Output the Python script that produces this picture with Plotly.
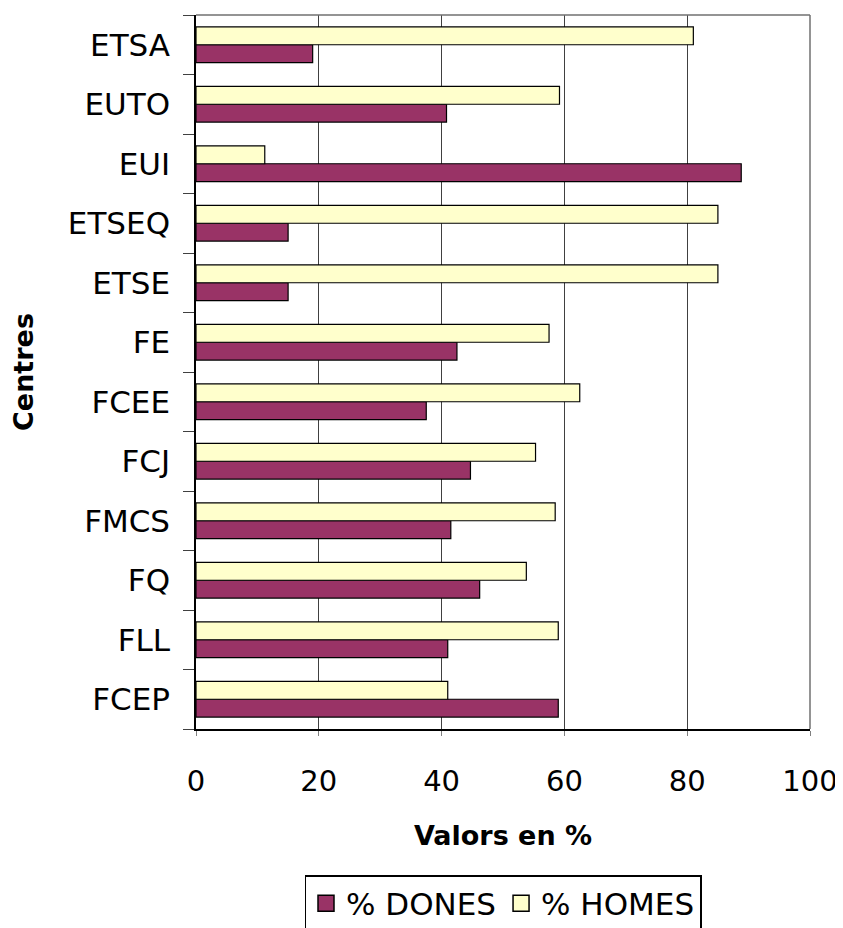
import plotly.graph_objects as go

categories = ["FCEP", "FLL", "FQ", "FMCS", "FCJ", "FCEE", "FE", "ETSE", "ETSEQ", "EUI", "EUTO", "ETSA"]
dones = [59.0, 41.0, 46.2, 41.5, 44.7, 37.5, 42.5, 15.0, 15.0, 88.8, 40.8, 19.0]
homes = [41.0, 59.0, 53.8, 58.5, 55.3, 62.5, 57.5, 85.0, 85.0, 11.2, 59.2, 81.0]
x_ticks = [0, 20, 40, 60, 80, 100]
series_names = ["% DONES", "% HOMES"]
series_colors = ["#993366", "#FFFFCC"]

FONT = "DejaVu Sans"

fig = go.Figure()
for vals, name, col in zip([dones, homes], series_names, series_colors):
    fig.add_trace(go.Bar(
        y=categories, x=vals, orientation="h", name=name, showlegend=False,
        marker=dict(color=col, line=dict(color="black", width=1.2)),
    ))
# legend proxies (larger square symbols)
for name, col in zip(series_names, series_colors):
    fig.add_trace(go.Scatter(
        x=[None], y=[None], mode="markers", name=name,
        marker=dict(symbol="square", size=16, color=col, line=dict(color="black", width=1.5)),
    ))

fig.update_layout(
    width=835, height=920,
    margin=dict(l=188, r=33, t=7, b=199, autoexpand=False),
    paper_bgcolor="white", plot_bgcolor="white",
    barmode="group", bargap=0.4, bargroupgap=0,
    font=dict(family=FONT, color="black", size=28),
    showlegend=True,
    legend=dict(
        orientation="h", x=0.5, xanchor="center", y=-0.2045, yanchor="top",
        bordercolor="black", borderwidth=1.5, font=dict(size=31, family=FONT),
        traceorder="normal", bgcolor="white",
    ),
)
fig.update_xaxes(
    range=[0, 100], tickvals=x_ticks, ticktext=[str(v) for v in x_ticks],
    showgrid=True, gridcolor="#404040", gridwidth=1,
    showline=True, linecolor="black", linewidth=1.5, mirror=False,
    ticks="outside", ticklen=5, tickcolor="#808080",
    ticklabelstandoff=20, automargin=False,
    tickfont=dict(size=29, family=FONT),
    title=dict(text="<b>Valors en %</b>", font=dict(size=27, family=FONT), standoff=30),
    zeroline=False,
)
fig.update_yaxes(
    type="category", categoryorder="array", categoryarray=categories,
    showline=True, linecolor="black", linewidth=1.5,
    ticks="outside", tickson="boundaries", ticklen=11, tickcolor="#404040",
    ticklabelstandoff=18, automargin=False,
    tickfont=dict(size=31, family=FONT),
    title=dict(text="<b>Centres</b>", font=dict(size=27, family=FONT), standoff=26),
    showgrid=False,
)
# top & right frame
fig.add_shape(type="line", xref="paper", yref="paper", x0=0, x1=1, y0=1, y1=1,
              line=dict(color="#707070", width=1.5))
fig.add_shape(type="line", xref="paper", yref="paper", x0=1, x1=1, y0=0, y1=1,
              line=dict(color="#707070", width=1.5))

fig.write_html("out.html")
